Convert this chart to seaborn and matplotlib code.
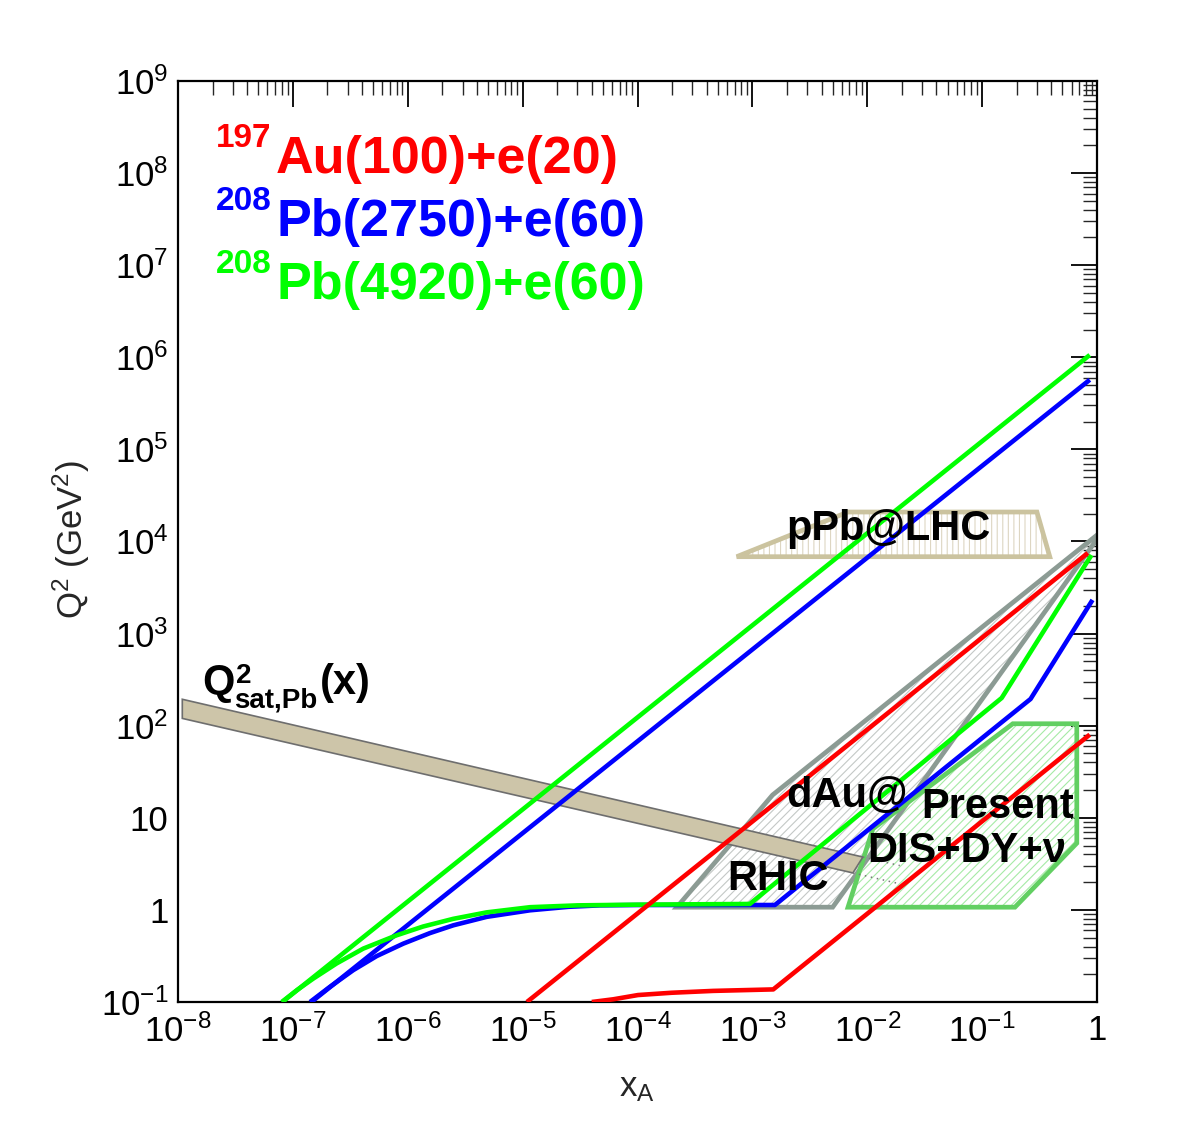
import matplotlib.pyplot as plt
import numpy as np
import pandas as pd
import seaborn as sns
from matplotlib.ticker import LogLocator, NullFormatter

# kinematic reach: x_A and Q^2 (GeV^2)
au_upper_x = [1.09e-5, 0.832]
au_upper_q2 = [0.1, 7500]
au_lower_x = [4.0e-5, 6.15e-5, 1.01e-4, 1.98e-4, 4.56e-4, 1.52e-3, 0.865]
au_lower_q2 = [0.1, 0.107, 0.119, 0.126, 0.132, 0.137, 80]

pb2750_upper_x = [1.45e-7, 0.865]
pb2750_upper_q2 = [0.1, 5.7e5]
pb2750_lower_x = [1.41e-7, 2.10e-7, 3.36e-7, 5.36e-7, 9.14e-7, 1.56e-6, 2.49e-6,
                  4.86e-6, 1.16e-5, 2.5e-5, 4.7e-5, 1.0e-4, 1.57e-3, 0.264, 0.914]
pb2750_lower_q2 = [0.1, 0.146, 0.222, 0.315, 0.43, 0.56, 0.68,
                   0.84, 0.99, 1.08, 1.12, 1.13, 1.13, 195, 2320]

pb4920_upper_x = [8.1e-8, 0.865]
pb4920_upper_q2 = [0.1, 1.06e6]
pb4920_lower_x = [8.0e-8, 1.08e-7, 1.51e-7, 2.40e-7, 4.10e-7, 8.0e-7, 1.36e-6,
                  2.49e-6, 4.86e-6, 1.16e-5, 3.0e-5, 1.0e-4, 9.5e-4, 0.148, 0.895]
pb4920_lower_q2 = [0.1, 0.134, 0.18, 0.262, 0.38, 0.53, 0.66,
                   0.80, 0.94, 1.07, 1.12, 1.14, 1.16, 200, 7130]

# regions
dau_x = [2.2e-4, 1.5e-3, 1.15, 5.0e-3]
dau_q2 = [1.07, 17.7, 1.35e4, 1.07]
dis_x = [6.8e-3, 0.193, 0.667, 0.667, 0.185, 0.0112]
dis_q2 = [1.07, 1.07, 5.3, 105, 105, 7.6]
ppb_x = [7.3e-4, 0.388, 0.30, 6.8e-3]
ppb_q2 = [6840, 6840, 2.09e4, 2.09e4]
qsat_x = [1.09e-8, 9.16e-3, 7.5e-3, 1.09e-8]
qsat_q2 = [193.6, 3.75, 2.52, 120]
qsat_ext_top_x = [9.16e-3, 0.0192]
qsat_ext_top_q2 = [3.75, 3.03]
qsat_ext_bot_x = [7.5e-3, 0.0192]
qsat_ext_bot_q2 = [2.52, 1.92]

x_ticks = [1e-8, 1e-7, 1e-6, 1e-5, 1e-4, 1e-3, 1e-2, 1e-1, 1]
x_tick_labels = [r"$10^{-8}$", r"$10^{-7}$", r"$10^{-6}$", r"$10^{-5}$", r"$10^{-4}$",
                 r"$10^{-3}$", r"$10^{-2}$", r"$10^{-1}$", "1"]
y_ticks = [1e-1, 1, 10, 1e2, 1e3, 1e4, 1e5, 1e6, 1e7, 1e8, 1e9]
y_tick_labels = [r"$10^{-1}$", "1", "10", r"$10^{2}$", r"$10^{3}$", r"$10^{4}$",
                 r"$10^{5}$", r"$10^{6}$", r"$10^{7}$", r"$10^{8}$", r"$10^{9}$"]

RED, BLUE, GREEN = "#ff0000", "#0000ff", "#00ff00"

sns.set_theme(style="white")
plt.rcParams["font.family"] = ["Liberation Sans", "DejaVu Sans"]
plt.rcParams["mathtext.fontset"] = "custom"
plt.rcParams["mathtext.rm"] = "Liberation Sans"
plt.rcParams["mathtext.it"] = "Liberation Sans:italic"
plt.rcParams["mathtext.bf"] = "Liberation Sans:bold"
plt.rcParams["hatch.linewidth"] = 0.8

W, H = 1182, 1140
fig = plt.figure(figsize=(W / 100, H / 100), dpi=100)
fig.patch.set_facecolor("white")
ax = fig.add_axes([178 / W, 1 - 1002 / H, 919 / W, 921 / H])
ax.set_xscale("log")
ax.set_yscale("log")


def at(xp, yp):
    # pixel position in the figure -> axes fraction
    return (xp - 178) / 919, (1002 - yp) / 921


# hatched regions (hatch first, outline on top)
regions = [
    (dau_x, dau_q2, "#c4c8c6", "////", "#8c9b94"),
    (dis_x, dis_q2, "#a6eaa6", "////", "#62cf62"),
    (ppb_x, ppb_q2, "#ddd6c2", "|||", "#cbc39f"),
]
for rx, ry, hatch_col, hatch, edge_col in regions:
    ax.fill(rx, ry, facecolor="none", edgecolor=hatch_col, hatch=hatch, lw=0, zorder=1)
    ax.fill(rx, ry, facecolor="none", edgecolor=edge_col, lw=3.4, zorder=2,
            joinstyle="miter")

# saturation band
ax.fill(qsat_x, qsat_q2, facecolor="#cdc5a9", edgecolor="#6e6e6e", lw=1.2, zorder=2.5)
ax.plot(qsat_ext_top_x, qsat_ext_top_q2, ls=(0, (1, 3)), color="#777777", lw=1.1, zorder=2.5)
ax.plot(qsat_ext_bot_x, qsat_ext_bot_q2, ls=(0, (1, 3)), color="#777777", lw=1.1, zorder=2.5)

curves = [
    ("Pb2750 upper", pb2750_upper_x, pb2750_upper_q2, BLUE, 3.0),
    ("Pb2750 lower", pb2750_lower_x, pb2750_lower_q2, BLUE, 3.0),
    ("Pb4920 upper", pb4920_upper_x, pb4920_upper_q2, GREEN, 3.1),
    ("Pb4920 lower", pb4920_lower_x, pb4920_lower_q2, GREEN, 3.1),
    ("Au upper", au_upper_x, au_upper_q2, RED, 3.2),
    ("Au lower", au_lower_x, au_lower_q2, RED, 3.2),
]
for name, cx, cy, col, z in curves:
    df = pd.DataFrame({"x": cx, "Q2": cy})
    line_ax = sns.lineplot(data=df, x="x", y="Q2", ax=ax, color=col, sort=False,
                           estimator=None, legend=False, zorder=z)
    line = line_ax.lines[-1]
    line.set_linewidth(3.3)
    line.set_solid_capstyle("butt")
    line.set_solid_joinstyle("round")

ax.set_xlim(1e-8, 1)
ax.set_ylim(0.1, 1e9)

ax.set_xticks(x_ticks, x_tick_labels)
ax.set_yticks(y_ticks, y_tick_labels)
ax.xaxis.set_minor_locator(LogLocator(base=10, subs=np.arange(2, 10), numticks=100))
ax.yaxis.set_minor_locator(LogLocator(base=10, subs=np.arange(2, 10), numticks=100))
ax.xaxis.set_minor_formatter(NullFormatter())
ax.yaxis.set_minor_formatter(NullFormatter())
ax.tick_params(which="major", direction="in", length=19, width=1.3, top=True,
               right=True, labelsize=25, colors="black")
ax.tick_params(axis="x", which="major", pad=9)
ax.tick_params(axis="y", which="major", pad=7)
ax.tick_params(which="minor", direction="in", length=10, width=1.0, top=True,
               right=True)
for sp in ax.spines.values():
    sp.set_linewidth(1.6)
    sp.set_color("black")
ax.set_xlabel("")
ax.set_ylabel("")

ax.text(*at(71, 540), r"Q$^{2}$ (GeV$^{2}$)", transform=ax.transAxes, rotation=90,
        ha="center", va="center", fontsize=25)
ax.text(*at(637, 1087), r"x$_{\mathrm{A}}$", transform=ax.transAxes, ha="center",
        va="center", fontsize=25)

# beam labels
beams = [("197", "Au(100)+e(20)", RED, 173),
         ("208", "Pb(2750)+e(60)", BLUE, 236),
         ("208", "Pb(4920)+e(60)", GREEN, 299)]
for sup, txt, col, base in beams:
    ax.text(*at(216, base - 26), sup, transform=ax.transAxes, color=col,
            fontsize=24, fontweight="bold", va="baseline", ha="left", zorder=6)
    ax.text(*at(276, base), txt, transform=ax.transAxes, color=col,
            fontsize=37.5, fontweight="bold", va="baseline", ha="left", zorder=6)

bold = dict(transform=ax.transAxes, color="black", fontweight="bold",
            va="baseline", ha="left", zorder=6)
ax.text(*at(786, 540), "pPb@LHC", fontsize=30, **bold)
ax.text(*at(786, 807), "dAu@", fontsize=30, **bold)
ax.text(*at(727, 890), "RHIC", fontsize=30, **bold)
ax.text(*at(921, 818), "Present", fontsize=30, **bold)
ax.text(*at(867, 862), "DIS+DY+\u03bd", fontsize=30, **bold)

ax.text(*at(202, 694), "Q", fontsize=30, **bold)
ax.text(*at(236, 683), "2", fontsize=20, **bold)
ax.text(*at(234, 708), "sat,Pb", fontsize=20, **bold)
ax.text(*at(320, 694), "(x)", fontsize=30, **bold)

fig.savefig("out.png", dpi=100, facecolor="white")
